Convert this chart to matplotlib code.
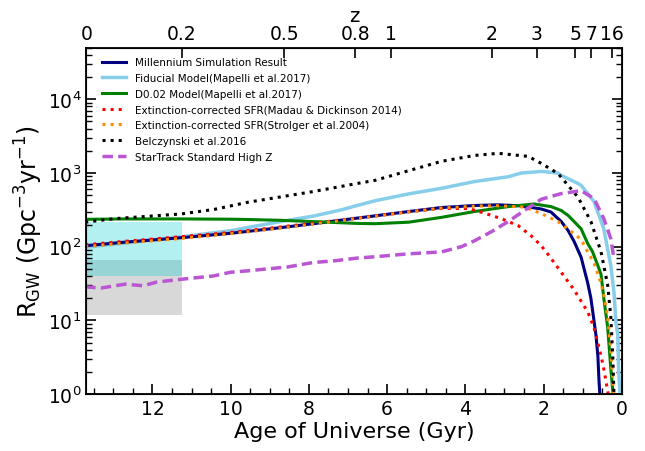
import numpy as np
import matplotlib
matplotlib.use('Agg')
from matplotlib import pyplot as plt
from matplotlib.ticker import MultipleLocator

# ages in Gyr, rates in Gpc^-3 yr^-1
age_mill = [13.72, 12.72, 11.22, 10.0, 8.73, 7.89, 7.15, 6.31, 5.45, 4.61, 3.77, 3.16, 2.57,
            2.06, 1.81, 1.55, 1.37, 1.22, 1.04, 0.87, 0.79, 0.66, 0.61, 0.585, 0.55]
r_mill = [103, 115, 133, 152, 181, 205, 230, 262, 300, 340, 362, 370, 358,
          325, 295, 220, 165, 118, 72, 32, 20, 6.3, 3.2, 1.6, 0.8]

age_fid = [13.72, 12.72, 11.22, 10.0, 8.73, 7.89, 7.15, 6.77, 6.31, 5.45, 4.61, 3.77, 2.9, 2.57,
           2.06, 1.63, 1.55, 1.12, 1.04, 0.71, 0.46, 0.28, 0.2, 0.15, 0.1, 0.08, 0.03]
r_fid = [98, 112, 137, 165, 219, 260, 318, 362, 420, 520, 620, 765, 890, 1000,
         1050, 1000, 930, 720, 680, 410, 175, 55, 24, 9.5, 6.2, 2, 0.8]

age_d002 = [13.72, 12.72, 11.22, 10.0, 9.57, 8.73, 7.89, 6.77, 6.31, 5.45, 4.61, 3.77, 2.9,
            2.24, 1.81, 1.55, 1.37, 1.04, 0.87, 0.75, 0.61, 0.53, 0.46, 0.36, 0.28, 0.23, 0.2]
r_d002 = [235, 238, 238, 236, 234, 228, 219, 207, 205, 215, 250, 300, 350,
          380, 350, 310, 265, 175, 110, 86, 55, 42, 20, 8, 2.2, 1.1, 0.8]

age_madau = [13.72, 12.72, 11.22, 10.0, 8.73, 7.89, 7.15, 6.31, 5.45, 4.61, 3.92, 3.51, 3.08,
             2.65, 2.32, 2.06, 1.88, 1.55, 1.22, 0.87, 0.71, 0.53, 0.46, 0.36, 0.32]
r_madau = [106, 118, 137, 156, 185, 208, 232, 262, 298, 330, 330, 285, 240,
           193, 141, 103, 78, 45, 26, 13, 8, 3.3, 2.2, 1.1, 0.8]

age_strol = [13.72, 12.72, 11.22, 10.0, 8.73, 7.89, 7.15, 6.31, 5.45, 4.61, 3.77, 3.16, 2.49,
             2.06, 1.63, 1.22, 1.04, 0.87, 0.71, 0.61, 0.53, 0.46, 0.36, 0.28, 0.23, 0.2]
r_strol = [100, 112, 130, 150, 178, 202, 228, 258, 296, 335, 355, 360, 345,
           282, 219, 150, 125, 85, 60, 42, 32, 22, 11, 4, 1.5, 0.8]

age_belc = [13.72, 12.98, 11.27, 10.43, 9.57, 7.89, 6.77, 6.31, 5.45, 4.61, 3.77, 3.16, 2.39,
            2.06, 1.63, 1.12, 0.79, 0.53, 0.36, 0.28, 0.23, 0.2]
r_belc = [215, 240, 278, 320, 400, 560, 720, 794, 1075, 1440, 1730, 1850, 1680,
          1350, 985, 470, 220, 85, 30, 11, 3.2, 1.0]

age_star = [13.72, 13.31, 12.7, 12.24, 11.9, 11.4, 10.45, 10.0, 9.57, 9.06, 8.55, 7.89, 7.38,
            6.77, 6.31, 5.45, 4.61, 4.10, 3.77, 3.33, 2.9, 2.49, 2.06, 1.55, 1.04, 0.71,
            0.46, 0.28, 0.2]
r_star = [28.5, 27.5, 31, 29.5, 33, 35.5, 40, 45, 47, 50, 53, 61, 64,
          70, 73, 80, 85, 100, 120, 160, 220, 310, 440, 525, 575, 450,
          240, 128, 69]

# observed rate ranges
obs_cyan = [40, 213]
obs_gray = [12, 65]

z_ticks = [0, 0.2, 0.5, 0.8, 1, 2, 3, 5, 7, 16]


def age(z):
    # flat LCDM
    H0, Om, OL = 70.2, 0.28, 0.72
    th = 977.8 / H0
    z = np.asarray(z, dtype=float)
    return 2 * th / (3 * np.sqrt(OL)) * np.arcsinh(np.sqrt(OL / Om) * (1 + z) ** -1.5)


t0 = float(age(0))
t02 = float(age(0.2))

fig = plt.figure(figsize=(6.45, 4.52), dpi=100)
ax = fig.add_axes([0.134, 0.126, 0.830, 0.766])

ax.fill_between([t0, t02], obs_gray[0], obs_gray[1], color='gray', alpha=0.3, lw=0)
ax.fill_between([t0, t02], obs_cyan[0], obs_cyan[1], color='darkturquoise', alpha=0.3, lw=0)

ax.plot(age_fid, r_fid, color='skyblue', lw=2.5, label='Fiducial Model(Mapelli et al.2017)')
ax.plot(age_mill, r_mill, color='navy', lw=2.2, label='Millennium Simulation Result')
ax.plot(age_d002, r_d002, color='green', lw=2.2, label='D0.02 Model(Mapelli et al.2017)')
ax.plot(age_madau, r_madau, color='red', lw=2.2, ls=':', label='Extinction-corrected SFR(Madau & Dickinson 2014)')
ax.plot(age_strol, r_strol, color='darkorange', lw=2.2, ls=':', label='Extinction-corrected SFR(Strolger et al.2004)')
ax.plot(age_belc, r_belc, color='black', lw=2.2, ls=':', label='Belczynski et al.2016')
ax.plot(age_star, r_star, color='mediumorchid', lw=2.5, ls=(0, (3, 1.5)), label='StarTrack Standard High Z')

ax.set_yscale('log')
ax.set_ylim(1, 5e4)
ax.set_xlim(t0, 0)
ax.xaxis.set_major_locator(MultipleLocator(2))
ax.xaxis.set_minor_locator(MultipleLocator(0.5))
ax.tick_params(which='both', direction='in', labelsize=13.5, right=True)
ax.tick_params(which='major', length=7, width=1.2)
ax.tick_params(which='minor', length=4, width=1)
for s in ax.spines.values():
    s.set_linewidth(1.3)

ax.set_xlabel('Age of Universe (Gyr)', fontsize=16, labelpad=2)
ax.set_ylabel(r'R$_{\rm GW}$ (Gpc$^{-3}$yr$^{-1}$)', fontsize=17, labelpad=2)

# legend order as in the figure
h, l = ax.get_legend_handles_labels()
order = [1, 0, 2, 3, 4, 5, 6]
ax.legend([h[i] for i in order], [l[i] for i in order], loc='upper left', frameon=False,
          fontsize=7.5, handlelength=2.3, labelspacing=0.55, borderaxespad=0.5,
          bbox_to_anchor=(0.012, 1.0))

ax2 = ax.twiny()
ax2.set_xlim(ax.get_xlim())
ax2.set_xticks(age(z_ticks))
ax2.set_xticklabels([str(z) for z in z_ticks])
ax2.tick_params(direction='in', length=7, width=1.2, labelsize=13.5)
ax2.set_xlabel('z', fontsize=14, labelpad=2)

fig.savefig('out.png', dpi=100)
